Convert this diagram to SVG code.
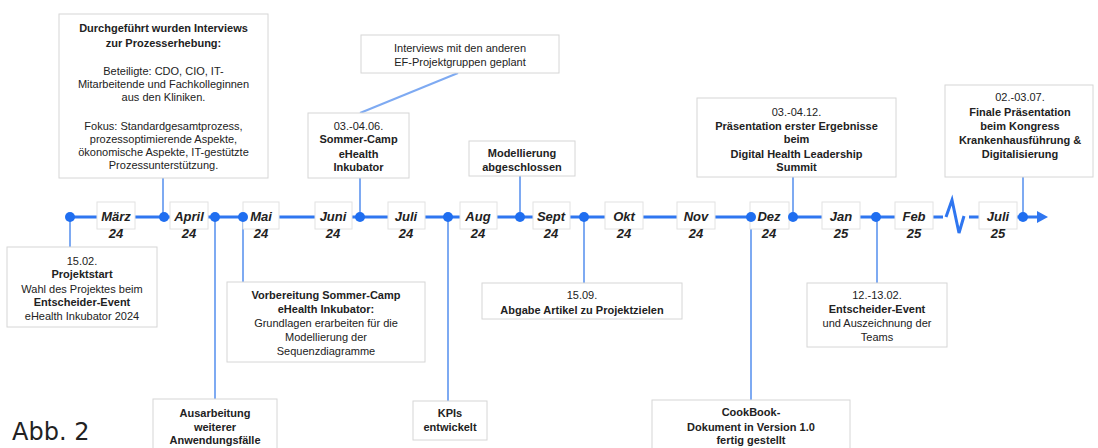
<svg xmlns="http://www.w3.org/2000/svg" width="1098" height="448" viewBox="0 0 1098 448">
<style>
.box{fill:#fff;stroke:#d6d6d6;stroke-width:1}
.mbox{fill:#fff;stroke:#e2e2e2;stroke-width:1}
.t{font-family:"Liberation Sans",Arial,sans-serif;font-size:11px;fill:#222;text-anchor:middle}
.b{font-weight:bold}
.m{font-family:"Liberation Sans",Arial,sans-serif;font-size:13px;font-weight:bold;font-style:italic;fill:#222;text-anchor:middle}
.tl{stroke:#2f76f0;stroke-width:3;fill:none}
.con{stroke:#7eaaf2;stroke-width:2;fill:none}
.dot{fill:#1f6ef0}
</style>
<rect width="1098" height="448" fill="#fff"/>
<g id="connectors">
<line class="con" x1="163" y1="178" x2="163" y2="217"/>
<line class="con" x1="458" y1="73" x2="360" y2="113"/>
<line class="con" x1="360" y1="178" x2="360" y2="217"/>
<line class="con" x1="520" y1="176" x2="520" y2="217"/>
<line class="con" x1="793" y1="177" x2="793" y2="217"/>
<line class="con" x1="1023" y1="177" x2="1023" y2="217"/>
<line class="con" x1="70" y1="217" x2="70" y2="247"/>
<line class="con" x1="243" y1="217" x2="243" y2="282"/>
<line class="con" x1="215" y1="217" x2="215" y2="399"/>
<line class="con" x1="448" y1="217" x2="448" y2="401"/>
<line class="con" x1="584" y1="217" x2="584" y2="283"/>
<line class="con" x1="751" y1="217" x2="751" y2="400"/>
<line class="con" x1="877" y1="217" x2="877" y2="283"/>
</g>
<g id="timeline">
<line class="tl" x1="70" y1="217" x2="943" y2="217"/>
<path class="tl" d="M946 217 L952 200 L959 233 L964 216"/>
<line class="tl" x1="969" y1="217" x2="1040" y2="217"/>
<polygon points="1037,211 1048,217 1037,223" fill="#2f76f0"/>
</g>
<g id="months">
<g id="m-maerz"><rect class="mbox" x="97" y="202" width="38" height="27"/><text class="m" x="116" y="221">März</text><text class="m" x="116" y="238">24</text></g>
<g id="m-april"><rect class="mbox" x="170" y="202" width="38" height="27"/><text class="m" x="189" y="221">April</text><text class="m" x="189" y="238">24</text></g>
<g id="m-mai"><rect class="mbox" x="243" y="202" width="36" height="27"/><text class="m" x="261" y="221">Mai</text><text class="m" x="261" y="238">24</text></g>
<g id="m-juni"><rect class="mbox" x="315" y="202" width="37" height="27"/><text class="m" x="333" y="221">Juni</text><text class="m" x="333" y="238">24</text></g>
<g id="m-juli"><rect class="mbox" x="388" y="202" width="37" height="27"/><text class="m" x="406" y="221">Juli</text><text class="m" x="406" y="238">24</text></g>
<g id="m-aug"><rect class="mbox" x="460" y="202" width="37" height="27"/><text class="m" x="478" y="221">Aug</text><text class="m" x="478" y="238">24</text></g>
<g id="m-sept"><rect class="mbox" x="533" y="202" width="37" height="27"/><text class="m" x="551" y="221">Sept</text><text class="m" x="551" y="238">24</text></g>
<g id="m-okt"><rect class="mbox" x="605" y="202" width="38" height="27"/><text class="m" x="624" y="221">Okt</text><text class="m" x="624" y="238">24</text></g>
<g id="m-nov"><rect class="mbox" x="677" y="202" width="38" height="27"/><text class="m" x="696" y="221">Nov</text><text class="m" x="696" y="238">24</text></g>
<g id="m-dez"><rect class="mbox" x="750" y="202" width="39" height="27"/><text class="m" x="769" y="221">Dez</text><text class="m" x="769" y="238">24</text></g>
<g id="m-jan"><rect class="mbox" x="822" y="202" width="38" height="27"/><text class="m" x="841" y="221">Jan</text><text class="m" x="841" y="238">25</text></g>
<g id="m-feb"><rect class="mbox" x="895" y="202" width="38" height="27"/><text class="m" x="914" y="221">Feb</text><text class="m" x="914" y="238">25</text></g>
<g id="m-juli25"><rect class="mbox" x="979" y="202" width="38" height="27"/><text class="m" x="998" y="221">Juli</text><text class="m" x="998" y="238">25</text></g>
</g>
<g id="dots">
<circle class="dot" cx="70" cy="217" r="5"/>
<circle class="dot" cx="164" cy="217" r="5"/>
<circle class="dot" cx="215" cy="217" r="5"/>
<circle class="dot" cx="243" cy="217" r="5"/>
<circle class="dot" cx="360" cy="217" r="5"/>
<circle class="dot" cx="448" cy="217" r="5"/>
<circle class="dot" cx="520" cy="217" r="5"/>
<circle class="dot" cx="584" cy="217" r="5"/>
<circle class="dot" cx="751" cy="217" r="5"/>
<circle class="dot" cx="793" cy="217" r="5"/>
<circle class="dot" cx="876" cy="217" r="5"/>
<circle class="dot" cx="1023" cy="217" r="5"/>
</g>
<g id="n-interviews">
<rect class="box" x="59" y="14" width="209" height="164"/>
<text class="t b" x="163.5" y="32">Durchgeführt wurden Interviews</text>
<text class="t b" x="163.5" y="47">zur Prozesserhebung:</text>
<text class="t" x="163.5" y="75">Beteiligte: CDO, CIO, IT-</text>
<text class="t" x="163.5" y="88">Mitarbeitende und Fachkolleginnen</text>
<text class="t" x="163.5" y="101">aus den Kliniken.</text>
<text class="t" x="163.5" y="130">Fokus: Standardgesamtprozess,</text>
<text class="t" x="163.5" y="143">prozessoptimierende Aspekte,</text>
<text class="t" x="163.5" y="156">ökonomische Aspekte, IT-gestützte</text>
<text class="t" x="163.5" y="169">Prozessunterstützung.</text>
</g>
<g id="n-ef">
<rect class="box" x="361" y="35" width="198" height="38"/>
<text class="t" x="460" y="52">Interviews mit den anderen</text>
<text class="t" x="460" y="66">EF-Projektgruppen geplant</text>
</g>
<g id="n-sommercamp">
<rect class="box" x="308" y="113" width="101" height="65"/>
<text class="t" x="358.5" y="130">03.-04.06.</text>
<text class="t b" x="358.5" y="143">Sommer-Camp</text>
<text class="t b" x="358.5" y="158">eHealth</text>
<text class="t b" x="358.5" y="171">Inkubator</text>
</g>
<g id="n-modellierung">
<rect class="box" x="469" y="141" width="106" height="35"/>
<text class="t b" x="522" y="157">Modellierung</text>
<text class="t b" x="522" y="171">abgeschlossen</text>
</g>
<g id="n-praesentation">
<rect class="box" x="697" y="98" width="199" height="79"/>
<text class="t" x="796.5" y="116">03.-04.12.</text>
<text class="t b" x="796.5" y="130">Präsentation erster Ergebnisse</text>
<text class="t b" x="796.5" y="143">beim</text>
<text class="t b" x="796.5" y="158">Digital Health Leadership</text>
<text class="t b" x="796.5" y="171">Summit</text>
</g>
<g id="n-finale">
<rect class="box" x="945" y="85" width="148" height="92"/>
<text class="t" x="1020" y="101">02.-03.07.</text>
<text class="t b" x="1020" y="116">Finale Präsentation</text>
<text class="t b" x="1020" y="130">beim Kongress</text>
<text class="t b" x="1020" y="144">Krankenhausführung &amp;</text>
<text class="t b" x="1020" y="158">Digitalisierung</text>
</g>
<g id="n-projektstart">
<rect class="box" x="7" y="247" width="150" height="80"/>
<text class="t" x="82" y="265">15.02.</text>
<text class="t b" x="82" y="278">Projektstart</text>
<text class="t" x="82" y="293">Wahl des Projektes beim</text>
<text class="t b" x="82" y="306">Entscheider-Event</text>
<text class="t" x="82" y="320">eHealth Inkubator 2024</text>
</g>
<g id="n-vorbereitung">
<rect class="box" x="227" y="282" width="198" height="80"/>
<text class="t b" x="326" y="299">Vorbereitung Sommer-Camp</text>
<text class="t b" x="326" y="313">eHealth Inkubator:</text>
<text class="t" x="326" y="327">Grundlagen erarbeiten für die</text>
<text class="t" x="326" y="341">Modellierung der</text>
<text class="t" x="326" y="355">Sequenzdiagramme</text>
</g>
<g id="n-ausarbeitung">
<rect class="box" x="153" y="399" width="124" height="56"/>
<text class="t b" x="215" y="417">Ausarbeitung</text>
<text class="t b" x="215" y="431">weiterer</text>
<text class="t b" x="215" y="444">Anwendungsfälle</text>
</g>
<g id="n-kpis">
<rect class="box" x="413" y="401" width="74" height="39"/>
<text class="t b" x="450" y="417">KPIs</text>
<text class="t b" x="450" y="431">entwickelt</text>
</g>
<g id="n-abgabe">
<rect class="box" x="482" y="283" width="200" height="36"/>
<text class="t" x="582" y="299">15.09.</text>
<text class="t b" x="582" y="314">Abgabe Artikel zu Projektzielen</text>
</g>
<g id="n-cookbook">
<rect class="box" x="652" y="400" width="198" height="56"/>
<text class="t b" x="751" y="416">CookBook-</text>
<text class="t b" x="751" y="431">Dokument in Version 1.0</text>
<text class="t b" x="751" y="444">fertig gestellt</text>
</g>
<g id="n-entscheider">
<rect class="box" x="807" y="283" width="140" height="64"/>
<text class="t" x="877" y="299">12.-13.02.</text>
<text class="t b" x="877" y="313">Entscheider-Event</text>
<text class="t" x="877" y="327">und Auszeichnung der</text>
<text class="t" x="877" y="341">Teams</text>
</g>
<text x="12" y="440" font-family="'DejaVu Sans',sans-serif" font-size="24" fill="#222">Abb. 2</text>
</svg>
